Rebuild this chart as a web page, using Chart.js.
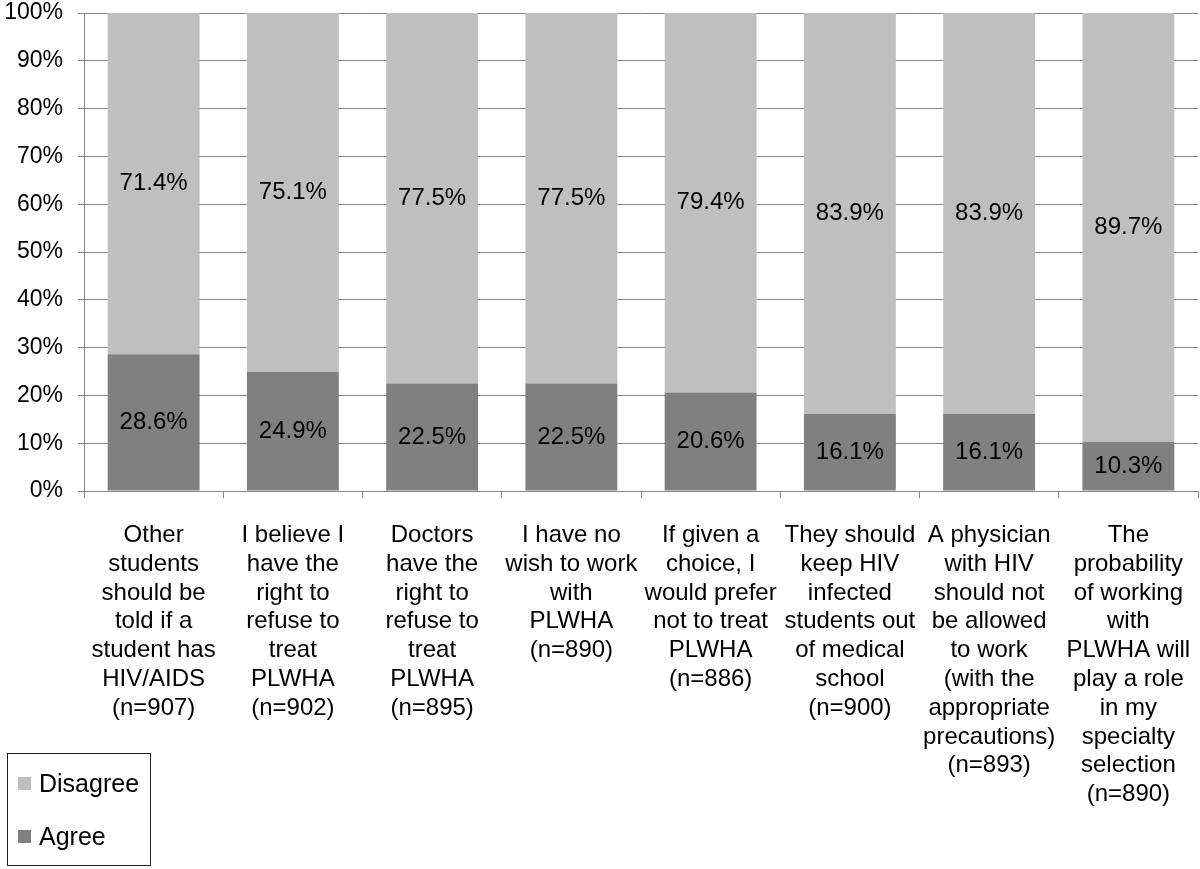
<!DOCTYPE html>
<html>
<head>
<meta charset="utf-8">
<script src="https://cdn.jsdelivr.net/npm/chart.js@4"></script>
<style>
  html, body { margin: 0; padding: 0; background: #fff; }
  #wrap { position: relative; width: 1200px; height: 869px; }
  #legend {
    position: absolute; left: 7px; top: 753px; width: 144px; height: 113px;
    border: 1px solid #222; box-sizing: border-box;
    font-family: 'Liberation Sans', Arial, sans-serif; font-size: 25px; color: #000;
  }
  .item { position: absolute; left: 10px; display: flex; align-items: center; }
  .sw { width: 13px; height: 13px; margin-right: 8px; }
</style>
</head>
<body>
<div id="wrap">
  <canvas id="c" width="1200" height="869"></canvas>
  <div id="legend">
    <div class="item" style="top:15px"><span class="sw" style="background:#bfbfbf"></span>Disagree</div>
    <div class="item" style="top:68px"><span class="sw" style="background:#808080"></span>Agree</div>
  </div>
</div>
<script>
// categories (multi-line labels)
const categories = [
  ['Other', 'students', 'should be', 'told if a', 'student has', 'HIV/AIDS', '(n=907)'],
  ['I believe I', 'have the', 'right to', 'refuse to', 'treat', 'PLWHA', '(n=902)'],
  ['Doctors', 'have the', 'right to', 'refuse to', 'treat', 'PLWHA', '(n=895)'],
  ['I have no', 'wish to work', 'with', 'PLWHA', '(n=890)'],
  ['If given a', 'choice, I', 'would prefer', 'not to treat', 'PLWHA', '(n=886)'],
  ['They should', 'keep HIV', 'infected', 'students out', 'of medical', 'school', '(n=900)'],
  ['A physician', 'with HIV', 'should not', 'be allowed', 'to work', '(with the', 'appropriate', 'precautions)', '(n=893)'],
  ['The', 'probability', 'of working', 'with', 'PLWHA will', 'play a role', 'in my', 'specialty', 'selection', '(n=890)']
];

const agree = [28.6, 24.9, 22.5, 22.5, 20.6, 16.1, 16.1, 10.3];
const disagree = [71.4, 75.1, 77.5, 77.5, 79.4, 83.9, 83.9, 89.7];

const FONT = "'Liberation Sans', Arial, sans-serif";
const GRID = '#868686';

// value labels in the middle of each segment
const segmentLabels = {
  id: 'segmentLabels',
  afterDatasetsDraw(chart) {
    const ctx = chart.ctx;
    ctx.save();
    ctx.font = '24px ' + FONT;
    ctx.fillStyle = '#000';
    ctx.textAlign = 'center';
    ctx.textBaseline = 'middle';
    chart.data.datasets.forEach((ds, i) => {
      chart.getDatasetMeta(i).data.forEach((bar, j) => {
        const y = (bar.y + bar.base) / 2;
        ctx.fillText(ds.data[j].toFixed(1) + '%', bar.x, y);
      });
    });
    ctx.restore();
  }
};

new Chart(document.getElementById('c'), {
  type: 'bar',
  data: {
    labels: categories,
    datasets: [
      { label: 'Agree', data: agree, backgroundColor: '#808080', categoryPercentage: 1, barPercentage: 0.66 },
      { label: 'Disagree', data: disagree, backgroundColor: '#bfbfbf', categoryPercentage: 1, barPercentage: 0.66 }
    ]
  },
  options: {
    responsive: false,
    animation: false,
    layout: { padding: { top: 13, right: 2, left: 0, bottom: 0 } },
    plugins: {
      legend: { display: false },
      tooltip: { enabled: false }
    },
    scales: {
      x: {
        stacked: true,
        afterFit: s => { s.height = 378; s.paddingLeft = 0; s.paddingRight = 0; },
        grid: { offset: true, drawOnChartArea: false, tickLength: 7, color: GRID },
        border: { color: GRID },
        ticks: {
          color: '#000', padding: 23, maxRotation: 0, autoSkip: false,
          font: { family: FONT, size: 24, lineHeight: 1.2 }
        }
      },
      y: {
        stacked: true,
        min: 0, max: 100,
        afterFit: s => { s.width = 84; s.paddingTop = 0; s.paddingBottom = 0; },
        grid: { color: GRID, tickLength: 6 },
        border: { color: GRID },
        ticks: {
          stepSize: 10, color: '#000', padding: 15,
          font: { family: FONT, size: 23 },
          callback: v => v + '%'
        }
      }
    }
  },
  plugins: [segmentLabels]
});
</script>
</body>
</html>
